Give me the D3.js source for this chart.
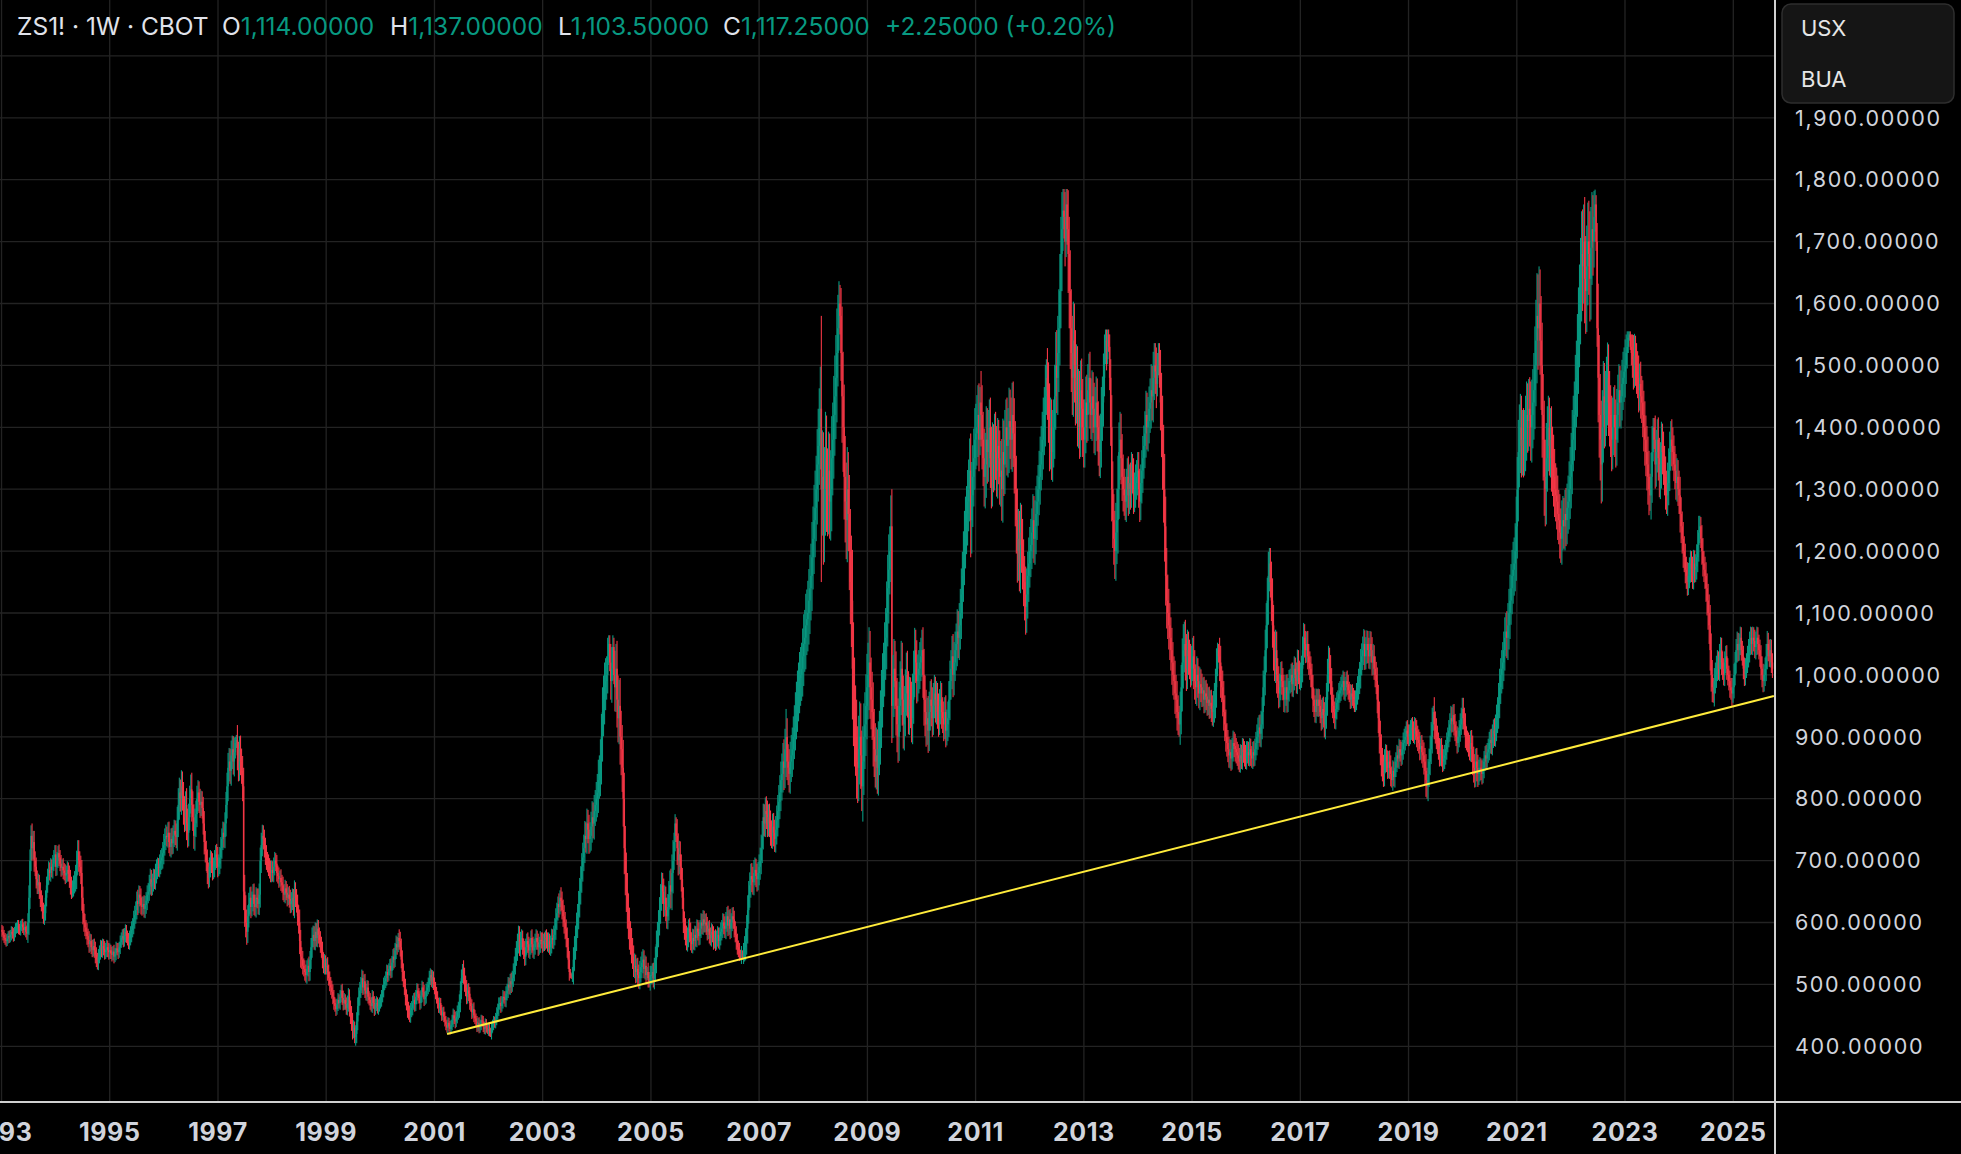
<!DOCTYPE html>
<html>
<head>
<meta charset="utf-8">
<script src="https://cdn.jsdelivr.net/npm/d3@7"></script>
<style>
  html, body { margin: 0; padding: 0; background: #000; }
  svg { display: block; }
</style>
</head>
<body>
<div id="chart"></div>
<script>
// ---- data (weekly bars, ZS1! continuous, cents per bushel) ----
const firstWeek = [1993, 0, 4];   // Monday of the first bar
const firstOpen = 588;

// weekly closes, one line per year
const weeklyClose = [
  585,580,575,572,570,574,578,576,580,585,582,578,585,590,592,595,590,588,594,597,592,588,593,585,582,600,640,700,740,720,730,700,690,670,660,665,650,640,630,620,610,615,640,660,675,685,680,690,685,695,705,710, // 1993
  690,700,712,705,695,688,690,684,680,676,680,685,678,670,660,652,656,662,668,675,695,715,700,690,680,640,615,600,592,585,578,572,565,570,560,556,562,555,548,540,535,545,552,560,555,562,558,552,556,560,555,552, // 1994
  555,550,548,553,545,550,558,556,552,560,568,575,578,572,580,585,578,572,568,575,582,588,595,605,612,620,635,630,645,640,628,625,630,622,628,635,645,650,662,670,658,665,672,668,680,685,690,688,695,700,705,712, // 1995
  725,735,740,738,745,730,722,735,728,740,748,742,738,765,790,810,800,820,805,780,770,790,760,745,770,800,815,790,770,740,760,775,800,810,795,790,795,785,760,730,715,700,680,672,690,700,695,685,690,700,710,705, // 1996
  690,695,705,720,735,745,738,760,790,820,850,860,845,870,880,860,875,890,895,870,850,880,860,845,820,650,620,600,585,610,630,640,625,635,645,630,625,640,638,630,645,700,725,740,735,720,710,700,695,690,685,680, // 1997
  685,680,690,700,695,680,675,670,672,665,660,650,645,655,648,640,645,638,630,635,640,625,650,640,630,610,600,570,545,540,530,525,520,515,525,530,520,540,560,575,580,570,585,575,590,580,572,565,555,540,530,535,528, // 1998
  530,520,510,500,495,488,480,470,465,460,468,475,470,480,490,478,470,475,468,462,470,480,460,450,440,425,430,415,420,440,465,480,490,500,510,495,505,490,485,495,480,475,470,465,480,470,460,468,470,462,465,470, // 1999
  475,480,490,500,505,510,520,515,525,530,522,535,545,540,555,565,560,575,570,560,540,520,510,495,480,470,460,455,450,458,462,470,475,468,480,490,485,478,470,482,495,488,476,480,490,495,500,510,515,505,512,500, // 2000
  495,485,480,470,462,470,458,450,455,448,440,435,430,438,432,428,435,442,450,445,440,448,455,460,470,490,510,525,515,500,495,480,490,485,470,465,455,460,450,445,440,432,438,430,435,442,440,432,428,436,430,425, // 2001
  428,425,420,430,435,440,438,445,452,460,468,470,465,472,480,478,475,485,490,500,495,505,500,510,520,530,545,555,565,580,560,570,575,560,555,545,560,570,565,555,560,575,565,555,560,570,575,568,560,565,572,570, // 2002
  565,570,568,575,572,565,570,560,565,575,572,580,590,605,615,630,625,640,635,620,610,600,590,575,560,540,520,515,512,520,540,560,575,595,610,630,650,670,690,705,720,740,735,760,750,735,740,755,770,760,780,790, // 2003
  800,810,830,840,860,900,940,960,980,990,1000,1030,1050,1020,990,1010,1045,1000,980,1010,960,930,950,900,880,850,800,720,680,650,620,600,580,570,555,545,530,530,520,525,515,510,520,528,535,540,525,530,515,520,510,505,515, // 2004
  515,520,510,525,540,565,580,600,620,640,660,650,630,640,620,610,625,645,660,650,680,700,730,760,740,720,700,710,690,670,640,600,590,580,570,575,590,585,570,565,575,570,580,575,590,585,578,590,600,595,605,598, // 2005
  600,595,585,590,580,575,585,580,570,575,568,575,580,570,578,585,590,600,595,590,600,610,595,605,590,600,610,605,590,580,570,560,555,550,545,550,545,555,560,570,590,620,645,660,675,670,665,680,685,675,670,680, // 2006
  690,700,720,740,770,760,780,775,760,770,760,745,740,755,745,735,750,765,780,795,810,830,840,860,850,880,900,860,850,840,860,870,880,900,915,935,950,965,980,995,1000,1010,1030,1050,1060,1080,1090,1100,1120,1140,1160,1190, // 2007
  1220,1250,1270,1300,1340,1370,1400,1430,1300,1320,1250,1300,1350,1300,1290,1330,1280,1300,1350,1380,1420,1450,1480,1520,1560,1600,1580,1520,1450,1400,1320,1280,1250,1300,1260,1200,1150,1120,1010,960,920,900,860,850,880,900,870,820,860,900,920,950,980, // 2008
  1000,1020,980,960,940,900,880,860,870,850,880,900,930,960,990,1010,1040,1060,1100,1140,1170,1200,1240,950,980,1010,990,950,920,900,950,980,1010,960,920,940,970,1000,970,940,960,950,930,960,1000,1040,1020,990,1000,1010,1020,1030,1040, // 2009
  1000,960,940,920,930,910,940,960,950,930,960,970,950,960,940,930,950,960,940,930,920,940,910,920,930,960,990,1010,1030,1000,1020,1040,1050,1070,1060,1080,1100,1130,1160,1190,1220,1240,1260,1280,1300,1330,1250,1290,1320,1350,1380,1390, // 2010
  1400,1420,1380,1440,1420,1380,1350,1320,1340,1380,1360,1380,1400,1350,1320,1360,1340,1380,1360,1330,1370,1350,1320,1330,1300,1360,1340,1380,1400,1370,1380,1410,1400,1380,1420,1390,1350,1300,1250,1200,1220,1180,1230,1210,1180,1150,1130,1110,1130,1160,1180,1200, // 2011
  1210,1230,1250,1220,1240,1260,1280,1300,1320,1340,1360,1380,1400,1420,1450,1480,1460,1420,1380,1400,1360,1380,1400,1450,1500,1480,1520,1560,1620,1680,1720,1750,1740,1700,1760,1720,1680,1620,1560,1520,1480,1540,1500,1460,1480,1420,1440,1400,1460,1430,1400,1380, // 2012
  1400,1440,1420,1460,1480,1440,1420,1450,1430,1400,1420,1440,1400,1380,1360,1380,1420,1440,1480,1520,1540,1510,1550,1530,1480,1400,1300,1250,1220,1200,1230,1250,1300,1360,1380,1350,1320,1300,1290,1280,1300,1320,1290,1310,1300,1330,1320,1290,1300,1310,1320,1330, // 2013
  1300,1280,1310,1330,1350,1370,1390,1420,1400,1410,1430,1440,1460,1450,1480,1500,1490,1470,1500,1520,1480,1440,1400,1350,1300,1240,1160,1120,1100,1080,1060,1040,1020,1000,990,970,960,940,930,920,940,980,1020,1040,1050,1030,1010,1040,1030,1020,1010,1020, // 2014
  1030,1010,990,980,1000,990,970,985,980,970,975,960,970,965,955,960,950,955,945,940,950,960,980,1010,1040,1030,1020,990,980,960,940,920,900,890,880,870,875,865,880,890,885,880,875,870,865,860,870,865,880,875,870,865,875, // 2015
  875,870,880,870,865,875,870,880,890,900,910,915,905,920,940,980,1000,1040,1080,1120,1160,1180,1150,1120,1080,1040,1020,1040,1000,990,970,980,1000,990,980,960,970,980,960,975,990,990,1000,985,995,1010,1000,990,1020,1005,995,1000, // 2016
  1010,1040,1060,1050,1040,1050,1030,1020,1010,1000,980,960,950,940,960,950,960,950,940,930,945,935,920,940,960,1000,1020,1010,990,960,950,940,930,945,955,960,970,975,980,985,990,975,980,990,985,975,970,960,970,965,960,955, // 2017
  960,970,980,990,1000,1020,1030,1040,1050,1030,1040,1050,1040,1030,1050,1040,1020,1030,1010,1000,990,960,930,900,880,860,850,840,860,870,860,850,860,850,840,830,845,835,850,860,870,865,880,875,870,880,890,895,900,910,905,900, // 2018
  905,910,915,910,905,915,910,900,895,890,880,885,875,870,860,845,830,820,840,860,880,900,920,940,920,910,900,890,880,870,880,870,860,865,870,880,890,900,910,920,930,925,935,920,910,900,890,900,910,920,930,945, // 2019
  930,920,900,895,890,885,880,890,880,860,850,840,860,850,840,845,850,845,840,850,860,870,865,875,880,890,895,890,900,910,905,915,930,940,960,980,1000,1010,1020,1040,1060,1070,1060,1080,1100,1120,1140,1160,1170,1180,1200,1240,1300, // 2020
  1360,1380,1400,1370,1380,1370,1380,1400,1420,1410,1430,1420,1400,1420,1440,1460,1500,1540,1580,1560,1600,1540,1500,1420,1380,1320,1300,1350,1380,1400,1370,1380,1350,1340,1320,1300,1290,1280,1260,1250,1230,1220,1240,1250,1240,1260,1250,1270,1280,1300,1320,1340, // 2021
  1380,1400,1420,1460,1480,1520,1560,1600,1640,1680,1660,1700,1640,1620,1660,1700,1680,1640,1690,1720,1700,1740,1760,1700,1560,1480,1420,1380,1340,1400,1450,1420,1440,1460,1480,1440,1420,1400,1380,1400,1420,1400,1380,1420,1440,1460,1440,1450,1470,1480,1490,1500, // 2022
  1520,1530,1545,1550,1530,1520,1510,1500,1515,1500,1490,1480,1460,1470,1450,1440,1420,1400,1380,1360,1340,1320,1300,1290,1320,1360,1400,1380,1340,1360,1380,1350,1320,1340,1370,1360,1340,1320,1300,1290,1310,1330,1360,1380,1370,1360,1340,1330,1310,1320,1300,1290, // 2023
  1260,1240,1220,1200,1190,1170,1160,1150,1160,1170,1180,1170,1160,1180,1170,1175,1190,1210,1230,1240,1220,1200,1180,1170,1160,1140,1120,1100,1080,1040,1000,980,970,990,1000,1010,1020,1010,1030,1040,1020,1010,1000,1020,1030,1010,1000,990,980,975,970,980, // 2024
  1000,1020,1040,1050,1040,1050,1060,1040,1030,1010,1000,1010,1020,1030,1040,1050,1060,1050,1060,1055,1045,1050,1060,1050,1040,1030,1010,1000,990,1000,1010,1030,1050,1040,1030,1040,1020,1010 // 2025
];

// shadow length beyond the body, cents (same line layout)
const weeklyWick = [
  8,9,8,8,9,8,8,9,8,9,8,9,8,9,8,9,9,8,9,8,9,8,9,9,10,15,20,18,17,20,18,18,15,15,14,14,12,15,12,14,12,14,12,14,12,14,12,14,12,14,12,15,
  15,14,12,14,12,14,12,14,12,14,12,14,12,14,15,14,12,14,15,18,21,18,18,15,18,21,18,15,14,12,14,12,14,12,11,12,11,12,14,12,11,12,11,12,11,12,11,12,11,12,11,12,
  11,9,11,9,11,9,11,9,11,9,11,9,11,12,11,12,11,9,11,12,12,14,12,14,15,14,15,18,15,14,15,14,12,14,15,14,15,14,15,17,15,14,15,14,15,17,15,14,15,17,15,18,
  18,17,18,15,17,18,15,17,18,17,18,17,18,22,27,24,21,26,24,22,24,22,27,24,22,21,24,27,22,21,24,22,21,20,18,21,18,17,18,20,18,17,18,17,15,17,15,17,15,17,15,17,
  17,15,17,18,17,18,17,18,21,22,24,22,21,24,22,21,24,10,8,24,22,21,22,21,24,30,27,24,21,18,18,17,18,15,17,18,15,17,15,17,18,21,20,18,17,15,17,15,14,15,14,15,
  15,14,15,14,12,14,12,14,12,14,12,14,12,14,12,14,12,14,15,14,15,14,18,15,14,15,18,21,18,15,14,12,14,12,14,12,15,14,15,17,15,14,15,14,15,14,12,14,12,14,12,14,12,
  12,14,12,11,12,11,12,11,9,11,9,11,9,11,9,11,12,11,9,11,12,14,12,14,15,14,12,10,14,15,14,15,14,12,14,12,11,12,11,12,11,9,11,9,11,9,11,9,11,9,11,9,
  9,11,9,11,9,11,12,11,9,11,12,11,12,14,12,14,12,8,14,15,14,15,14,12,14,12,14,12,11,12,11,12,11,12,11,12,11,9,11,9,11,9,11,9,11,9,11,12,11,9,11,9,
  11,9,11,9,8,9,8,9,8,9,8,9,8,9,8,9,8,9,11,9,11,9,11,12,14,15,14,8,14,12,14,12,11,12,11,9,11,9,11,9,8,9,8,9,8,9,8,9,8,9,8,5,
  8,9,5,9,8,9,8,9,11,9,11,9,11,9,11,9,11,12,11,12,11,12,14,12,14,15,14,15,17,15,14,15,14,12,14,15,14,12,14,12,14,12,14,12,14,12,14,12,14,12,14,12,
  14,12,14,12,14,12,14,12,14,15,14,15,17,18,17,12,17,12,17,15,17,18,17,15,17,15,14,5,3,8,20,18,20,21,20,21,22,21,22,24,22,24,22,24,22,24,22,24,26,24,26,24,
  27,30,33,30,36,37,40,39,40,37,30,30,14,14,30,35,19,15,39,40,45,39,42,45,42,39,45,42,36,33,30,27,24,22,21,20,18,20,18,17,18,17,18,17,18,17,15,17,15,8,15,10,15,
  15,14,15,18,21,22,21,20,21,22,21,20,21,20,18,20,21,22,24,27,30,33,15,15,10,27,24,22,21,20,18,17,18,17,15,17,15,17,15,14,15,14,15,14,15,14,15,14,15,14,15,14,
  14,15,14,12,14,12,14,12,14,12,14,12,14,12,14,15,14,15,14,15,17,15,17,15,17,15,14,15,14,12,14,12,11,12,6,12,5,12,18,21,22,24,22,21,20,21,20,21,20,18,20,18,
  20,21,22,24,22,21,22,24,22,21,22,21,20,21,22,21,22,24,26,27,28,30,33,30,36,33,45,30,28,30,32,33,35,33,36,37,39,42,40,42,45,42,45,48,45,51,48,52,51,54,52,57,
  52,57,60,54,57,60,63,68,150,75,72,68,75,69,66,63,60,63,68,60,63,66,69,72,54,36,30,45,75,72,69,66,63,68,60,63,68,75,82,75,68,63,60,57,54,57,54,40,57,54,52,51,54,
  52,57,51,48,45,48,45,42,45,42,45,42,45,48,45,42,45,48,51,54,57,40,50,60,52,48,45,48,45,42,39,42,45,42,39,42,39,36,39,36,37,36,39,42,39,36,33,36,33,30,33,30,33,
  37,42,39,36,33,36,33,30,33,30,27,30,27,30,27,30,27,30,27,24,27,24,27,24,27,30,33,30,33,36,33,30,33,36,33,36,39,42,39,42,45,48,45,51,48,52,60,54,51,48,51,48,
  52,48,51,25,51,48,45,48,51,54,51,48,45,48,51,48,45,42,45,42,45,42,45,48,51,54,51,48,45,48,51,54,51,48,52,54,57,60,54,51,48,45,48,45,42,39,42,45,42,39,42,39,
  42,39,42,39,42,45,42,39,42,45,42,45,48,45,51,30,48,45,51,48,45,48,45,51,54,57,60,63,60,60,60,35,35,40,25,25,63,60,66,63,60,63,60,57,54,51,54,51,48,51,48,45,
  45,42,45,42,39,42,39,42,39,42,45,42,39,42,39,42,45,42,39,30,18,18,8,8,20,30,52,45,42,45,48,51,54,48,45,42,39,36,33,30,33,30,33,30,33,30,27,30,27,30,27,30,
  30,33,30,33,36,33,36,39,36,39,36,39,42,39,42,36,36,39,20,16,16,45,48,51,54,57,48,45,42,39,36,33,36,33,30,33,30,30,27,20,33,36,39,42,36,39,36,33,30,27,30,27,
  30,33,30,27,30,27,24,27,24,22,21,22,21,22,21,20,21,20,21,22,24,27,30,33,12,10,30,27,24,27,30,27,24,22,21,20,21,20,18,20,18,20,18,17,18,17,18,17,18,17,18,17,18,
  18,17,18,17,15,17,18,17,18,20,21,20,21,22,24,27,30,33,36,37,39,25,25,33,36,33,30,33,30,27,24,22,21,22,21,20,21,20,21,20,18,20,18,20,21,20,18,20,21,20,18,20,
  21,22,24,22,21,20,21,20,18,20,18,20,18,17,18,17,18,17,18,20,18,20,21,24,27,26,27,24,22,21,20,18,17,18,17,15,17,15,17,15,17,15,17,15,17,15,14,15,14,15,14,15,
  15,17,18,20,21,22,21,22,24,22,21,22,21,20,21,20,21,20,18,20,21,22,24,27,26,24,22,21,20,18,17,18,17,18,20,12,17,15,17,15,17,15,17,15,17,15,17,18,17,15,17,15,
  15,17,15,17,15,17,15,17,18,17,18,17,18,20,21,22,27,20,24,21,22,24,27,10,24,21,20,18,17,18,17,18,17,15,17,15,17,15,17,18,20,18,17,18,17,15,17,15,17,18,17,18,
  18,17,18,17,15,17,18,20,21,22,24,22,21,22,21,18,17,15,17,15,17,15,17,15,17,18,17,18,20,18,20,21,22,24,27,30,27,30,33,30,33,30,33,36,39,42,39,42,45,42,45,48,52,
  52,57,54,51,48,51,48,51,54,51,48,51,54,57,54,60,63,66,69,67,60,55,72,69,66,63,60,57,54,51,48,51,54,51,48,45,42,45,42,39,42,39,42,39,36,39,42,39,42,45,48,51,
  48,51,54,57,60,63,66,63,66,69,72,60,72,69,66,63,66,69,66,60,55,42,24,15,30,72,69,66,63,60,57,54,51,54,57,54,51,48,51,48,45,48,45,42,45,42,39,42,39,42,39,42,
  30,25,10,5,5,20,30,39,36,33,36,33,36,33,36,33,36,39,42,39,42,45,42,25,39,42,15,15,39,36,33,36,33,36,39,36,33,30,33,30,33,36,33,30,33,30,27,30,27,30,27,30,
  30,27,24,27,24,22,21,22,21,20,21,20,21,22,21,20,21,24,27,17,15,22,21,20,21,22,24,27,30,33,27,24,15,21,20,21,20,18,20,21,20,18,17,18,17,18,17,15,17,15,20,15,
  18,17,18,20,18,17,18,17,15,17,18,17,15,17,18,20,18,17,18,17,18,20,18,17,15,17,18,20,18,17,18,20,21,18,17,18,17,15
];

const priceTicks = [400, 500, 600, 700, 800, 900, 1000, 1100, 1200, 1300, 1400, 1500, 1600, 1700, 1800, 1900, 2000];
const yearTicks = [1993, 1995, 1997, 1999, 2001, 2003, 2005, 2007, 2009, 2011, 2013, 2015, 2017, 2019, 2021, 2023, 2025];
const trendPoints = [[2001, 2, 27, 420], [2025, 9, 2, 966]];   // y, m(0-based), d, price
const legendParts = [
  ["ZS1! · 1W · CBOT", ""], ["O", "1,114.00000"], ["H", "1,137.00000"],
  ["L", "1,103.50000"], ["C", "1,117.25000"], ["", "+2.25000 (+0.20%)"]
];
const legendX = [17, 222, 390, 558, 723, 885];
const unitOptions = ["USX", "BUA"];

// ---- layout ----
const W = 1961, H = 1154;
const plotRight = 1775, axisTop = 1102;
const upColor = "#089981", downColor = "#f23645";
const textColor = "#d1d4dc";

const bars = weeklyClose.map(function (c, i) {
  const o = i === 0 ? firstOpen : weeklyClose[i - 1];
  const w = weeklyWick[i] || 0;
  return {
    date: new Date(firstWeek[0], firstWeek[1], firstWeek[2] + 7 * i),
    open: o, close: c,
    high: Math.max(o, c) + w,
    low: Math.min(o, c) - w
  };
});

const x = d3.scaleTime()
  .domain([new Date(1995, 0, 1), new Date(2025, 0, 1)])
  .range([109.7, 1733.3]);
const y = d3.scaleLinear().domain([400, 1900]).range([1046.3, 117.8]);

const svg = d3.select("#chart").append("svg")
  .attr("width", W).attr("height", H)
  .style("background", "#000")
  .style("font-family", "Inter, 'Noto Sans', sans-serif");

svg.append("defs").append("clipPath").attr("id", "plotClip")
  .append("rect").attr("x", 0).attr("y", 0).attr("width", plotRight).attr("height", axisTop);

// grid
const grid = svg.append("g").attr("stroke", "#232323").attr("stroke-width", 1.3);
grid.selectAll("line.h").data(priceTicks).enter().append("line")
  .attr("x1", 0).attr("x2", plotRight)
  .attr("y1", d => y(d)).attr("y2", d => y(d));
grid.selectAll("line.v").data(yearTicks).enter().append("line")
  .attr("x1", d => x(new Date(d, 0, 1))).attr("x2", d => x(new Date(d, 0, 1)))
  .attr("y1", 0).attr("y2", axisTop);

// candles
const plot = svg.append("g").attr("clip-path", "url(#plotClip)");
const candle = plot.selectAll("g.c").data(bars).enter().append("g")
  .attr("fill", d => d.close >= d.open ? upColor : downColor);
candle.append("rect")
  .attr("x", d => x(d.date) - 0.55).attr("width", 1.1)
  .attr("y", d => y(d.high)).attr("height", d => Math.max(1, y(d.low) - y(d.high)));
candle.append("rect")
  .attr("x", d => x(d.date) - 0.75).attr("width", 1.5)
  .attr("y", d => y(Math.max(d.open, d.close)))
  .attr("height", d => Math.max(1, Math.abs(y(d.open) - y(d.close))));

// trend line
const trendLine = d3.line()
  .x(d => x(new Date(d[0], d[1], d[2])))
  .y(d => y(d[3]));
plot.append("path").datum(trendPoints)
  .attr("d", trendLine)
  .attr("fill", "none").attr("stroke", "#ffeb3b").attr("stroke-width", 2);

// axis separators
svg.append("line").attr("x1", 0).attr("x2", W).attr("y1", axisTop).attr("y2", axisTop)
  .attr("stroke", "#d0d0d0").attr("stroke-width", 2);
svg.append("line").attr("x1", plotRight).attr("x2", plotRight).attr("y1", 0).attr("y2", H)
  .attr("stroke", "#d0d0d0").attr("stroke-width", 2);

// price axis labels
const fmt = d3.format(",.5f");
svg.append("g").selectAll("text").data(priceTicks).enter().append("text")
  .attr("x", 1795).attr("y", d => y(d))
  .attr("dy", "0.36em")
  .attr("fill", textColor).attr("font-size", 21.5).attr("letter-spacing", 1.7)
  .text(d => fmt(d));

// time axis labels (the first one sits on the left edge, as in the app)
svg.append("g").selectAll("text").data(yearTicks).enter().append("text")
  .attr("x", d => x(new Date(d, 0, 1))).attr("y", 1141)
  .attr("text-anchor", "middle")
  .attr("fill", textColor).attr("font-size", 25).attr("font-weight", 700)
  .attr("letter-spacing", 0.6)
  .text(d => d);

// legend
const legend = svg.append("text").attr("y", 35).attr("font-size", 24.5);
legendParts.forEach(function (p, i) {
  if (p[0]) legend.append("tspan").attr("x", legendX[i]).attr("fill", "#e0e3eb").text(p[0]);
  if (p[1]) {
    const v = legend.append("tspan").attr("fill", upColor).text(p[1]);
    if (!p[0]) v.attr("x", legendX[i]);
  }
});

// unit selector
const menu = svg.append("g");
menu.append("rect").attr("x", 1782).attr("y", 4).attr("width", 172).attr("height", 99).attr("rx", 9)
  .attr("fill", "#151515").attr("stroke", "#2e2e2e").attr("stroke-width", 1.5);
menu.selectAll("text").data(unitOptions).enter().append("text")
  .attr("x", 1801).attr("y", (d, i) => 36 + i * 50.5)
  .attr("fill", "#e6e6e6").attr("font-size", 22)
  .text(d => d);
</script>
</body>
</html>
